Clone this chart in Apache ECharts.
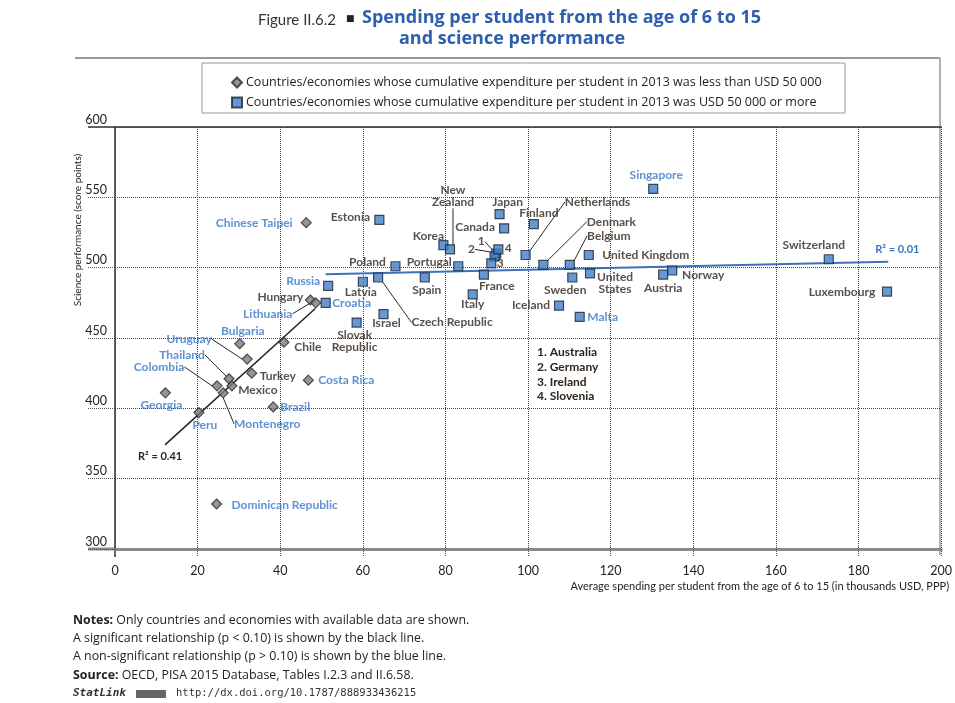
<!DOCTYPE html>
<html>
<head>
<meta charset="utf-8">
<script src="https://cdn.jsdelivr.net/npm/echarts@6/dist/echarts.min.js"></script>
<style>
html,body{margin:0;padding:0;background:#fff;}
#chart{width:955px;height:703px;}
</style>
</head>
<body>
<div id="chart"></div>
<script>
// ---- Data ----
// Countries/economies with cumulative expenditure < USD 50 000 (diamonds)
const lowNames = ['Chinese Taipei','Hungary','Lithuania','Bulgaria','Chile','Uruguay','Turkey','Thailand','Mexico','Colombia','Montenegro','Costa Rica','Georgia','Brazil','Peru','Dominican Republic'];
const lowSpend = [46.3, 47.3, 48.6, 30.2, 40.9, 32.0, 33.1, 27.6, 28.3, 24.7, 26.2, 46.8, 12.2, 38.3, 20.3, 24.6];
const lowScience = [532, 477, 475, 446, 447, 435, 425, 421, 416, 416, 411, 420, 411, 401, 397, 332];

// Countries/economies with cumulative expenditure >= USD 50 000 (squares)
const highNames = ['Russia','Croatia','Estonia','Latvia','Poland','Czech Republic','Slovak Republic','Israel','Korea','New Zealand','Portugal','Spain','Italy','France','Japan','Canada','Australia','Germany','Ireland','Slovenia','Finland','Netherlands','Iceland','Denmark','Belgium','Sweden','United Kingdom','United States','Malta','Singapore','Austria','Norway','Switzerland','Luxembourg'];
const highSpend = [51.6, 51.0, 64.0, 60.0, 67.9, 63.7, 58.5, 65.0, 79.5, 81.1, 83.1, 75.0, 86.6, 89.3, 93.1, 94.2, 92.3, 91.9, 91.1, 92.8, 101.4, 99.4, 107.5, 103.7, 110.1, 110.7, 114.7, 115.0, 112.5, 130.3, 132.7, 134.9, 172.8, 186.9];
const highScience = [487, 475, 534, 490, 501, 493, 461, 467, 516, 513, 501, 493, 481, 495, 538, 528, 510, 508, 503, 513, 531, 509, 473, 502, 502, 493, 509, 496, 465, 556, 495, 498, 506, 483];

// Partner countries/economies (labelled in blue)
const partners = ['Chinese Taipei','Lithuania','Bulgaria','Uruguay','Thailand','Colombia','Montenegro','Costa Rica','Georgia','Brazil','Peru','Dominican Republic','Russia','Croatia','Malta','Singapore'];

// Trend lines (end points)
const trendLowSpend = [48.5, 12.1];
const trendLowScience = [471, 374];
const trendHighSpend = [51.0, 187.2];
const trendHighScience = [495.4, 504.2];

// Axis ticks
const xTicks = [0, 20, 40, 60, 80, 100, 120, 140, 160, 180, 200];
const yTicks = [300, 350, 400, 450, 500, 550, 600];

const legendLow = 'Countries/economies whose cumulative expenditure per student in 2013 was less than USD 50 000';
const legendHigh = 'Countries/economies whose cumulative expenditure per student in 2013 was USD 50 000 or more';

// ---- Label layout (pixel offsets of label centres from their marker) ----
const labelOffsets = {
  'Chinese Taipei':[-52,0], 'Hungary':[-30,-3], 'Lithuania':[-48,11], 'Bulgaria':[3,-13], 'Chile':[24,5],
  'Uruguay':[-58,-20], 'Turkey':[26,3], 'Thailand':[-47,-24], 'Mexico':[26,4], 'Colombia':[-58,-19],
  'Montenegro':[44,31], 'Costa Rica':[38,0], 'Georgia':[-4,12], 'Brazil':[22,0], 'Peru':[6,13],
  'Dominican Republic':[68,1],
  'Russia':[-25,-5], 'Croatia':[26,0], 'Estonia':[-29,-3], 'Latvia':[-2,10], 'Poland':[-28,-4],
  'Czech Republic':[74,45], 'Slovak Republic':[-2,19], 'Israel':[3,9], 'Korea':[-15,-9],
  'New Zealand':[3,-53], 'Portugal':[-29,-4], 'Spain':[2,13], 'Italy':[0,10], 'France':[13,11],
  'Japan':[8,-12], 'Canada':[-29,-1], 'Australia':[-15,-12], 'Germany':[-23,-7], 'Ireland':[9,0],
  'Slovenia':[10,-1], 'Finland':[5,-11], 'Netherlands':[72,-53], 'Iceland':[-28,-1], 'Denmark':[68,-43],
  'Belgium':[39,-29], 'Sweden':[-7,13], 'United Kingdom':[57,0], 'United States':[25,10], 'Malta':[23,0],
  'Singapore':[3,-14], 'Austria':[0,13], 'Norway':[31,5], 'Switzerland':[-15,-14], 'Luxembourg':[-45,1]
};
const leaderLines = ['Lithuania','Uruguay','Thailand','Colombia','Montenegro','Czech Republic','New Zealand','Australia','Germany','Netherlands','Denmark','Belgium'];
const displayText = {
  'New Zealand':'New\nZealand', 'United States':'United\nStates', 'Slovak Republic':'Slovak\nRepublic',
  'Australia':'1', 'Germany':'2', 'Ireland':'3', 'Slovenia':'4'
};

const BLUE = '#3675c4';
const DARK = '#2e241c';
const LABEL_FONT = 'Lato, "Open Sans", sans-serif';
const TEXT_FONT = '"Open Sans", Lato, sans-serif';

function buildData(names, xs, ys) {
  return names.map(function (n, i) {
    const item = {
      name: n,
      value: [xs[i], ys[i]],
      label: { color: partners.indexOf(n) >= 0 ? BLUE : DARK }
    };
    if (leaderLines.indexOf(n) >= 0) {
      item.labelLine = { show: true, lineStyle: { color: '#2a2a2a', width: 1 } };
    }
    return item;
  });
}

function layoutFor(names) {
  return function (p) {
    const n = names[p.dataIndex];
    const off = labelOffsets[n] || [0, 0];
    return {
      x: p.rect.x + p.rect.width / 2 + off[0],
      y: p.rect.y + p.rect.height / 2 + off[1],
      align: 'center',
      verticalAlign: 'middle'
    };
  };
}

const labelCommon = {
  show: true,
  position: 'inside',
  fontFamily: LABEL_FONT,
  fontSize: 12,
  fontWeight: 'bold',
  lineHeight: 12,
  formatter: function (p) { return displayText[p.name] || p.name; }
};

const chart = echarts.init(document.getElementById('chart'), null, { renderer: 'canvas' });

const option = {
  animation: false,
  backgroundColor: '#fff',
  textStyle: { fontFamily: LABEL_FONT },
  grid: { left: 115, right: 12, top: 127, bottom: 154, containLabel: false },
  legend: {
    orient: 'vertical',
    left: 226,
    top: 71,
    itemGap: 7,
    itemWidth: 10,
    itemHeight: 10,
    textStyle: { fontFamily: TEXT_FONT, fontSize: 12.5, color: '#222', padding: [0, 0, 0, -1] },
    data: [legendLow, legendHigh]
  },
  xAxis: [{
    type: 'value',
    min: xTicks[0],
    max: xTicks[xTicks.length - 1],
    interval: xTicks[1] - xTicks[0],
    axisLine: { show: true, onZero: false, lineStyle: { color: '#8a8a8a', width: 3 } },
    axisTick: { show: true, length: 8, lineStyle: { color: '#555', type: 'dotted' } },
    axisLabel: { margin: 15, fontSize: 12.5, color: '#222', fontFamily: LABEL_FONT },
    splitLine: { show: true, lineStyle: { color: '#444', type: 'dotted', width: 1 } },
    name: 'Average spending per student from the age of 6 to 15 (in thousands USD, PPP)',
    nameLocation: 'end',
    nameGap: 8,
    nameTextStyle: { align: 'right', verticalAlign: 'top', padding: [32, 0, 0, 0], fontSize: 11, color: '#222', fontFamily: LABEL_FONT }
  }, {
    type: 'value',
    position: 'top',
    min: xTicks[0],
    max: xTicks[xTicks.length - 1],
    axisLine: { show: true, onZero: false, lineStyle: { color: '#333', width: 1.5 } },
    axisTick: { show: false },
    axisLabel: { show: false },
    splitLine: { show: false }
  }],
  yAxis: {
    type: 'value',
    min: yTicks[0],
    max: yTicks[yTicks.length - 1],
    interval: yTicks[1] - yTicks[0],
    axisLine: { show: true, onZero: false, lineStyle: { color: '#333', width: 1.5 } },
    axisTick: { show: true, length: 27, lineStyle: { color: '#555', type: 'dotted' } },
    axisLabel: { margin: 8, verticalAlign: 'bottom', fontSize: 12.5, color: '#222', fontFamily: LABEL_FONT, padding: [0, 0, 1, 0] },
    splitLine: { show: true, lineStyle: { color: '#444', type: 'dotted', width: 1 } }
  },
  series: [
    {
      name: 'trendLow',
      type: 'line',
      data: trendLowSpend.map(function (x, i) { return [x, trendLowScience[i]]; }),
      symbol: 'none',
      lineStyle: { color: '#222', width: 1.5 },
      z: 3,
      silent: true,
      endLabel: { show: true, formatter: 'R² = 0.41', color: DARK, fontFamily: LABEL_FONT, fontSize: 11, fontWeight: 'bold', offset: [-35, 12] }
    },
    {
      name: 'trendHigh',
      type: 'line',
      data: trendHighSpend.map(function (x, i) { return [x, trendHighScience[i]]; }),
      symbol: 'none',
      lineStyle: { color: '#3b70bf', width: 2 },
      z: 3,
      silent: true,
      endLabel: { show: true, formatter: 'R² = 0.01', color: BLUE, fontFamily: LABEL_FONT, fontSize: 11, fontWeight: 'bold', offset: [-21, -12] }
    },
    {
      name: legendLow,
      type: 'scatter',
      symbol: 'diamond',
      symbolSize: [10, 10],
      itemStyle: { color: '#7a7a7a', borderColor: '#2b2b2b', borderWidth: 1.2 },
      z: 5,
      data: buildData(lowNames, lowSpend, lowScience),
      label: labelCommon,
      labelLayout: layoutFor(lowNames)
    },
    {
      name: legendHigh,
      type: 'scatter',
      symbol: 'rect',
      symbolSize: 9,
      itemStyle: { color: '#3f7fca', borderColor: '#1d2430', borderWidth: 1.2 },
      z: 5,
      data: buildData(highNames, highSpend, highScience),
      label: labelCommon,
      labelLayout: layoutFor(highNames)
    }
  ],
  graphic: [
    // frame lines
    { type: 'line', shape: { x1: 75, y1: 58, x2: 940, y2: 58 }, style: { stroke: '#999', lineWidth: 2 }, silent: true },
    { type: 'rect', shape: { x: 202, y: 63, width: 643, height: 50 }, style: { fill: 'none', stroke: '#999', lineWidth: 1 }, silent: true },
    { type: 'line', shape: { x1: 940, y1: 58, x2: 940, y2: 555 }, style: { stroke: '#999', lineWidth: 1.5 }, silent: true },
    { type: 'line', shape: { x1: 88, y1: 549, x2: 115, y2: 549 }, style: { stroke: '#8a8a8a', lineWidth: 3 }, silent: true },
    { type: 'line', shape: { x1: 88, y1: 127, x2: 115, y2: 127 }, style: { stroke: '#333', lineWidth: 1.5 }, silent: true },
    { type: 'line', shape: { x1: 115, y1: 549, x2: 115, y2: 557 }, style: { stroke: '#333', lineWidth: 1.5 }, silent: true },
    // title
    { type: 'text', left: 258, top: 13, style: { text: 'Figure II.6.2', fontFamily: LABEL_FONT, fontSize: 15, fill: '#333' } },
    { type: 'text', left: 346, top: 14, style: { text: '■', fontFamily: 'DejaVu Sans', fontSize: 9, fill: '#222' } },
    { type: 'text', left: 362, top: 9, style: { text: 'Spending per student from the age of 6 to 15', fontFamily: TEXT_FONT, fontSize: 18, fontWeight: 'bold', fill: '#2d5fae' } },
    { type: 'text', left: 399, top: 30, style: { text: 'and science performance', fontFamily: TEXT_FONT, fontSize: 18, fontWeight: 'bold', fill: '#2d5fae' } },
    // y-axis name
    { type: 'text', x: 78, y: 230, rotation: Math.PI / 2, style: { text: 'Science performance (score points)', fontFamily: LABEL_FONT, fontSize: 10, fill: '#222', align: 'center', verticalAlign: 'middle' } },
    // footnote list for numbered points
    { type: 'text', left: 537, top: 345, style: { text: '1. Australia\n2. Germany\n3. Ireland\n4. Slovenia', fontFamily: LABEL_FONT, fontSize: 12, fontWeight: 'bold', lineHeight: 14.7, fill: DARK } },
    // notes
    { type: 'text', left: 73, top: 611, style: {
      text: '{b|Notes:} Only countries and economies with available data are shown.\nA significant relationship (p < 0.10) is shown by the black line.\nA non-significant relationship (p > 0.10) is shown by the blue line.\n{b|Source:} OECD, PISA 2015 Database, Tables I.2.3 and II.6.58.',
      fontFamily: TEXT_FONT, fontSize: 12.4, lineHeight: 18.3, fill: '#222',
      rich: { b: { fontFamily: TEXT_FONT, fontSize: 12.4, fontWeight: 'bold', fill: '#222' } }
    } },
    { type: 'text', left: 73, top: 688, style: { text: 'StatLink', fontFamily: '"DejaVu Sans Mono", monospace', fontSize: 11, fontStyle: 'italic', fontWeight: 'bold', fill: '#333' } },
    { type: 'rect', shape: { x: 136, y: 690, width: 30, height: 8 }, style: { fill: '#666' } },
    { type: 'text', left: 176, top: 688, style: { text: 'http://dx.doi.org/10.1787/888933436215', fontFamily: '"DejaVu Sans Mono", monospace', fontSize: 10.5, fill: '#333' } }
  ]
};

chart.setOption(option);
</script>
</body>
</html>
